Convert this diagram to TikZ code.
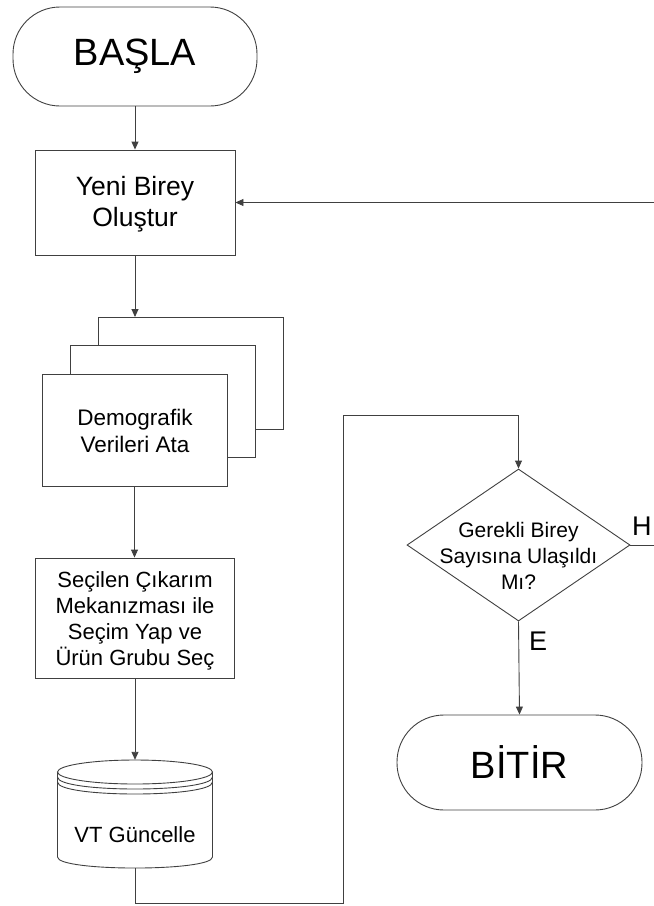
\documentclass[tikz,border=0pt]{standalone}
\usepackage{fontspec}
\setmainfont{Liberation Sans}
\usetikzlibrary{arrows.meta,shapes.geometric}
\tikzset{
  ln/.style={draw=black!75, line width=0.9pt},
  arr/.style={ln, -{Triangle[length=8pt,width=7pt]}},
  procbox/.style={ln, rectangle, inner sep=0pt},
  termbox/.style={ln, rectangle, rounded corners=47pt, inner sep=0pt, font=\fontsize{38}{42}\selectfont},
  txt/.style={align=center, inner sep=0pt, font=\fontsize{22}{26}\selectfont},
  bigtxt/.style={align=center, inner sep=0pt, font=\fontsize{26.5}{31}\selectfont},
  lbl/.style={inner sep=0pt, font=\fontsize{27}{30}\selectfont},
}
\begin{document}
\begin{tikzpicture}[x=1pt,y=-1pt]
\useasboundingbox (0,0) rectangle (654,906);

% start
\node[termbox, minimum width=244pt, minimum height=99pt] (start) at (135,56.5) {BAŞLA};

% new individual
\node[procbox, minimum width=200pt, minimum height=105pt] (yeni) at (135,202.5) {};
\node[bigtxt] (yenit) at (135,204) {Yeni Birey\\Oluştur};

% multi document
\draw[ln] (98,345) -- (98,317) -- (283,317) -- (283,429) -- (255,429);
\draw[ln] (70,374) -- (70,345) -- (255,345) -- (255,457) -- (227,457);
\node[procbox, minimum width=185pt, minimum height=112pt] (demo) at (134.5,430) {};
\node[txt, font=\fontsize{22.5}{27}\selectfont] (demot) at (135,431) {Demografik\\Verileri Ata};
\coordinate (dtop) at (135,317);

% selection
\node[procbox, minimum width=199pt, minimum height=120pt] (sel) at (134.5,618) {};
\node[txt] (selt) at (135,621) {Seçilen Çıkarım\\Mekanızması ile\\Seçim Yap ve\\Ürün Grubu Seç};

% database
\node[inner sep=0pt, minimum width=155pt, minimum height=108pt] (db) at (135,814) {};
\draw[ln] (135,772) ellipse [x radius=77.5, y radius=12];
\draw[ln] (57.5,777) .. controls (57.5,793) and (212.5,793) .. (212.5,777);
\draw[ln] (57.5,782) .. controls (57.5,798) and (212.5,798) .. (212.5,782);
\draw[ln] (57.5,772) -- (57.5,857) .. controls (57.5,871.7) and (212.5,871.7) .. (212.5,857) -- (212.5,772);
\node[inner sep=0pt, anchor=base, font=\fontsize{22}{26}\selectfont] (dbt) at (135,842) {VT Güncelle};

% decision
\node[ln, diamond, minimum width=223pt, minimum height=152pt, inner sep=0pt] (dia) at (518.5,545) {};
\node[txt, font=\fontsize{21}{26}\selectfont] (diat) at (518.5,556) {Gerekli Birey\\Sayısına Ulaşıldı\\Mı?};

% end
\node[termbox, minimum width=245pt, minimum height=95pt] (stop) at (519.5,762.5) {BİTİR};

% labels
\node[lbl, anchor=base west] (hl) at (632,535) {H};
\node[lbl, anchor=base west] (el) at (529,650) {E};

% connectors
\draw[arr] (start) -- (yeni);
\draw[arr] (yeni) -- (dtop);
\draw[arr] (demo) -- (sel.north -| demo.south);
\draw[arr] (sel.south -| db.north) -- (db.north);
\coordinate (lp1) at (135,903);
\coordinate (lp2) at (343,415);
\draw[arr] (db.south) -- (lp1) -| (lp2) -| (dia.north);
\draw[arr] (dia.south) -- (stop.north);
\coordinate (hend) at (656,545);
\draw[ln] (dia.east) -- (hend);
\coordinate (fb) at (656,202.5);
\draw[arr] (fb) -- (yeni.east);
\end{tikzpicture}
\end{document}
